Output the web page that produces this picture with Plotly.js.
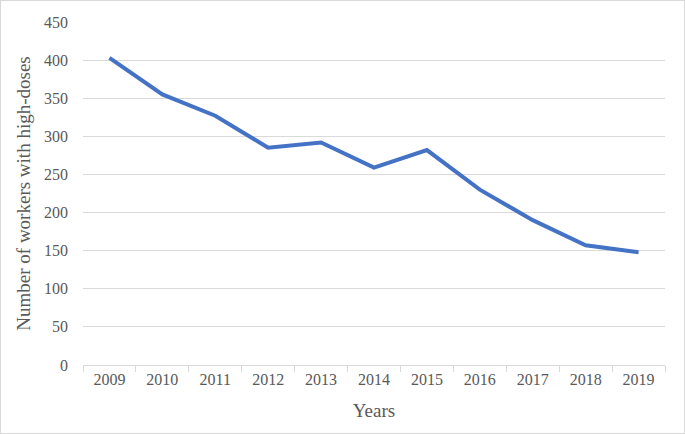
<!DOCTYPE html>
<html>
<head>
<meta charset="utf-8">
<script src="https://cdn.plot.ly/plotly-3.0.1.min.js"></script>
<style>
  body { margin: 0; background: #fff; }
  #plot { width: 683px; height: 432px; border: 1px solid #d9d9d9; }
</style>
</head>
<body>
<div id="plot"></div>
<script>
// Workers with high doses per year
var years = ["2009", "2010", "2011", "2012", "2013", "2014", "2015", "2016", "2017", "2018", "2019"];
var workers = [403, 355, 327, 285, 292, 259, 282, 230, 190, 157, 148];
var yTicks = [0, 50, 100, 150, 200, 250, 300, 350, 400, 450];

var data = [{
    x: years,
    y: workers,
    type: "scatter",
    mode: "lines",
    line: { color: "#4472c4", width: 4 },
    hoverinfo: "x+y"
}];

var layout = {
    width: 683,
    height: 432,
    margin: { l: 82, r: 19, t: 21, b: 68 },
    paper_bgcolor: "#fff",
    plot_bgcolor: "#fff",
    font: { family: "Liberation Serif, Times New Roman, serif", color: "#595959", size: 16 },
    showlegend: false,
    xaxis: {
        type: "category",
        range: [-0.5, 10.5],
        showgrid: false,
        showline: true,
        linecolor: "#d9d9d9",
        linewidth: 1,
        ticks: "outside",
        tickson: "boundaries",
        ticklen: 6,
        tickcolor: "#d9d9d9",
        tickfont: { size: 16, color: "#595959" },
        title: { text: "Years", font: { size: 19, color: "#595959" }, standoff: 16 }
    },
    yaxis: {
        range: [0, 450],
        tickvals: yTicks,
        showgrid: true,
        gridcolor: "#d9d9d9",
        gridwidth: 1,
        zeroline: false,
        showline: false,
        ticks: "",
        ticklabelstandoff: 14,
        tickfont: { size: 16, color: "#595959" },
        title: { text: "Number of workers with high-doses", font: { size: 19, color: "#595959" }, standoff: 8 }
    }
};

Plotly.newPlot("plot", data, layout, { displayModeBar: false, staticPlot: true });
</script>
</body>
</html>
